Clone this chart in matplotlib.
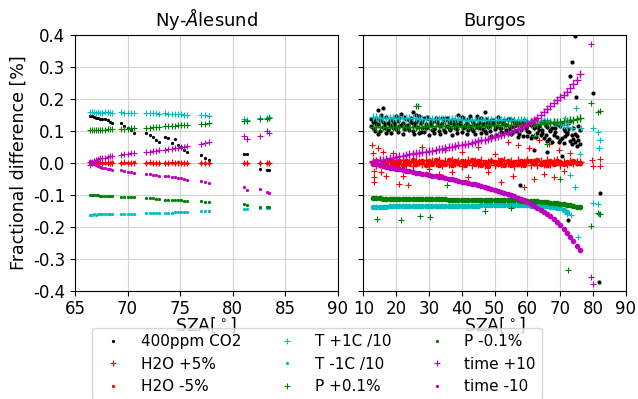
import numpy as np
import matplotlib
matplotlib.use('Agg')
import matplotlib.pyplot as plt

plt.rcParams['axes.unicode_minus'] = False
nan = np.nan

labels = ['400ppm CO2', 'H2O +5%', 'H2O -5%', 'T +1C /10', 'T -1C /10',
          'P +0.1%', 'P -0.1%', 'time +10', 'time -10']
styles = ['k.', 'r+', 'r.', 'c+', 'c.', 'g+', 'g.', 'm+', 'm.']

# ---- Ny-Alesund ----
sza_ny = [66.4, 66.6, 66.8, 67.0, 67.2, 67.4, 67.6,
          67.9, 68.1, 68.3, 68.5,
          69.4, 69.7, 70.0, 70.3, 70.6,
          71.8, 72.1, 72.4, 72.7, 73.0,
          73.6, 73.9, 74.2, 74.5, 74.8, 75.1, 75.4, 75.7,
          77.0, 77.4, 77.8,
          81.1, 81.4,
          82.6, 83.3, 83.5]
co2_ny = [0.146, 0.145, 0.143, 0.141, 0.139, 0.138, 0.137,
          0.136, 0.132, 0.127, 0.123,
          0.123, 0.116, 0.109, 0.101, 0.094,
          0.092, 0.086, 0.079, 0.072, 0.066,
          0.081, 0.078, 0.062, 0.074, 0.055, 0.048, 0.041, 0.034,
          0.024, 0.016, 0.009,
          0.027, 0.027,
          -0.021, -0.022, -0.022]
h2o_p_ny = [0.002, -0.002, 0.001, 0.0, -0.001, 0.002, 0.0,
            0.001, 0.0, -0.001, 0.0,
            0.0, 0.001, 0.0, -0.001, 0.0,
            0.0, 0.001, 0.0, 0.0, -0.001,
            0.0, 0.0, 0.001, 0.0, 0.0, -0.001, 0.0, 0.0,
            0.0, 0.0, 0.0,
            0.0, 0.0,
            0.0, 0.0, 0.0]
h2o_m_ny = [-0.001, 0.001, 0.0, -0.002, 0.001, 0.0, -0.001,
            0.0, -0.001, 0.0, 0.001,
            -0.001, 0.0, 0.0, 0.0, 0.001,
            0.0, 0.0, -0.001, 0.0, 0.0,
            0.0, -0.001, 0.0, 0.0, 0.001, 0.0, 0.0, 0.0,
            0.0, 0.0, 0.0,
            0.0, 0.0,
            0.0, 0.0, 0.0]
t_p_ny = [0.158, 0.157, 0.157, 0.156, 0.157, 0.156, 0.156,
          0.157, 0.157, 0.156, 0.156,
          0.157, 0.156, 0.156, 0.155, 0.155,
          0.155, 0.155, 0.154, 0.154, 0.153,
          0.154, 0.153, 0.153, 0.152, 0.152, 0.151, 0.150, 0.150,
          0.149, 0.148, 0.147,
          0.137, 0.133,
          0.140, 0.141, 0.142]
t_m_ny = [-0.162, -0.162, -0.161, -0.162, -0.161, -0.161, -0.161,
          -0.161, -0.160, -0.161, -0.160,
          -0.160, -0.160, -0.159, -0.159, -0.159,
          -0.158, -0.158, -0.157, -0.157, -0.156,
          -0.157, -0.156, -0.156, -0.155, -0.155, -0.154, -0.153, -0.153,
          -0.152, -0.151, -0.150,
          -0.145, -0.145,
          -0.141, -0.142, -0.143]
p_p_ny = [0.101, 0.101, 0.102, 0.102, 0.102, 0.103, 0.103,
          0.103, 0.104, 0.104, 0.104,
          0.105, 0.106, 0.106, 0.107, 0.108,
          0.110, 0.110, 0.111, 0.112, 0.112,
          0.114, 0.114, 0.115, 0.116, 0.117, 0.118, 0.118, 0.119,
          0.121, 0.122, 0.123,
          0.130, 0.131,
          0.137, 0.138, 0.139]
p_m_ny = [-0.101, -0.101, -0.102, -0.102, -0.102, -0.103, -0.103,
          -0.104, -0.104, -0.104, -0.105,
          -0.106, -0.106, -0.107, -0.108, -0.108,
          -0.110, -0.111, -0.111, -0.112, -0.112,
          -0.115, -0.115, -0.116, -0.117, -0.118, -0.118, -0.119, -0.120,
          -0.121, -0.122, -0.123,
          -0.130, -0.132,
          -0.137, -0.138, -0.139]
time_p_ny = [-0.006, 0.002, 0.006, 0.009, 0.012, 0.014, 0.016,
             0.016, 0.018, 0.020, 0.022,
             0.025, 0.027, 0.028, 0.030, 0.031,
             0.034, 0.035, 0.037, 0.038, 0.040,
             0.041, 0.042, 0.044, 0.045, 0.046, 0.048, 0.050, 0.051,
             0.058, 0.062, 0.066,
             0.083, 0.074,
             0.083, 0.100, 0.094]
time_m_ny = [0.006, -0.002, -0.005, -0.008, -0.011, -0.013, -0.015,
             -0.017, -0.019, -0.021, -0.023,
             -0.024, -0.026, -0.028, -0.030, -0.031,
             -0.035, -0.036, -0.037, -0.038, -0.040,
             -0.041, -0.043, -0.044, -0.046, -0.047, -0.049, -0.051, -0.053,
             -0.058, -0.061, -0.064,
             -0.075, -0.085,
             -0.083, -0.090, -0.094]

# ---- Burgos ----
sza_bu = [13, 14, 15, 16, 17, 18, 19, 20, 21, 22,
          23, 24, 25, 26, 27, 28, 29, 30, 31, 32,
          33, 34, 35, 36, 37, 38, 39, 40, 41, 42,
          43, 44, 45, 46, 47, 48, 49, 50, 51, 52,
          53, 54, 55, 56, 57, 58, 59, 60, 61, 62,
          63, 64, 65, 66, 67, 68, 69, 70, 71, 72,
          73, 74, 75, 76]
sza_bu2 = [12.5, 13.5, 14.5, 15.5, 16.5, 17.5, 18.5, 19.5, 20.5, 21.5,
           22.5, 23.5, 24.5, 25.5, 26.5, 27.5, 28.5, 29.5, 30.5, 31.5,
           32.5, 33.5, 34.5, 35.5, 36.5, 37.5, 38.5, 39.5, 40.5, 41.5,
           42.5, 43.5, 44.5, 45.5, 46.5, 47.5, 48.5, 49.5, 50.5, 51.5,
           52.5, 53.5, 54.5, 55.5, 56.5, 57.5, 58.5, 59.5, 60.5, 61.5,
           62.5, 63.5, 64.5, 65.5, 66.5, 67.5, 68.5, 69.5, 70.5, 71.5,
           72.5, 73.5, 74.5, 75.5]
co2_bu_a = [0.128, 0.121, 0.135, 0.112, 0.142, 0.118, 0.131, 0.105, 0.139, 0.124,
            0.116, 0.133, 0.098, 0.127, 0.145, 0.110, 0.122, 0.136, 0.103, 0.129,
            0.117, 0.140, 0.095, 0.126, 0.132, 0.108, 0.121, 0.144, 0.113, 0.101,
            0.130, 0.119, 0.137, 0.092, 0.124, 0.111, 0.134, 0.106, 0.128, 0.097,
            0.120, 0.138, 0.089, 0.115, 0.131, 0.102, 0.125, 0.083, 0.118, 0.109,
            0.094, 0.127, 0.078, 0.112, 0.099, 0.086, 0.121, 0.072, 0.105, 0.091,
            0.068, 0.110, 0.083, 0.058]
co2_bu_b = [0.109, 0.139, 0.100, 0.126, 0.094, 0.133, 0.108, 0.147, 0.115, 0.091,
            0.137, 0.102, 0.125, 0.150, 0.093, 0.131, 0.107, 0.088, 0.128, 0.141,
            0.099, 0.123, 0.134, 0.110, 0.087, 0.129, 0.148, 0.096, 0.117, 0.136,
            0.104, 0.090, 0.122, 0.139, 0.100, 0.127, 0.085, 0.116, 0.143, 0.109,
            0.132, 0.094, 0.113, 0.126, 0.081, 0.107, 0.135, 0.098, 0.076, 0.122,
            0.113, 0.088, 0.130, 0.069, 0.102, 0.125, 0.081, 0.114, 0.062, 0.097,
            0.131, 0.075, 0.052, 0.101]
co2_bu_c = [0.136, 0.098, 0.120, 0.148, 0.107, 0.125, 0.093, 0.116, 0.129, 0.153,
            0.104, 0.119, 0.140, 0.091, 0.112, 0.124, 0.097, 0.143, 0.118, 0.106,
            0.127, 0.089, 0.138, 0.115, 0.102, 0.121, 0.092, 0.131, 0.109, 0.124,
            0.146, 0.099, 0.113, 0.128, 0.105, 0.094, 0.119, 0.133, 0.087, 0.110,
            0.125, 0.103, 0.137, 0.096, 0.117, 0.089, 0.128, 0.108, 0.121, 0.084,
            0.136, 0.101, 0.092, 0.118, 0.073, 0.110, 0.095, 0.064, 0.123, 0.082,
            0.104, 0.059, 0.089, 0.072]
co2_bu_d = [0.115, 0.131, 0.089, 0.142, 0.120, 0.101, 0.137, 0.125, 0.096, 0.118,
            0.144, 0.108, 0.127, 0.119, 0.134, 0.097, 0.139, 0.111, 0.126, 0.093,
            0.135, 0.114, 0.103, 0.141, 0.123, 0.132, 0.106, 0.118, 0.139, 0.091,
            0.114, 0.128, 0.145, 0.107, 0.121, 0.136, 0.098, 0.124, 0.112, 0.130,
            0.093, 0.119, 0.104, 0.133, 0.099, 0.122, 0.085, 0.112, 0.096, 0.129,
            0.079, 0.116, 0.103, 0.088, 0.127, 0.066, 0.108, 0.121, 0.077, 0.099,
            0.125, 0.086, 0.064, 0.115]
h2o_p_bu = [0.004, -0.006, 0.008, -0.003, 0.006, -0.008, 0.002, 0.007, -0.005, 0.009,
            -0.007, 0.003, -0.009, 0.006, 0.001, -0.004, 0.008, -0.006, 0.005, -0.002,
            0.009, -0.008, 0.004, -0.005, 0.007, -0.001, 0.006, -0.009, 0.003, 0.008,
            -0.006, 0.005, -0.003, 0.009, -0.007, 0.002, 0.006, -0.008, 0.004, -0.005,
            0.008, -0.002, 0.005, -0.009, 0.007, -0.004, 0.003, 0.009, -0.006, 0.001,
            -0.008, 0.006, -0.003, 0.007, -0.005, 0.004, 0.008, -0.007, 0.002, -0.004,
            0.006, -0.002, 0.003, 0.001]
h2o_m_bu = [-0.003, 0.005, -0.007, 0.002, -0.005, 0.007, -0.001, -0.006, 0.004, -0.008,
            0.006, -0.002, 0.008, -0.005, 0.003, 0.006, -0.007, 0.004, -0.003, 0.008,
            -0.006, 0.002, -0.004, 0.007, -0.008, 0.005, -0.002, 0.006, -0.007, 0.003,
            0.008, -0.005, 0.004, -0.006, 0.002, -0.009, 0.005, 0.003, -0.004, 0.007,
            -0.006, 0.004, -0.008, 0.002, -0.003, 0.006, -0.007, 0.004, 0.005, -0.002,
            0.007, -0.005, 0.003, -0.006, 0.004, -0.003, 0.005, 0.002, -0.004, 0.003,
            -0.002, 0.004, -0.001, -0.002]
t_p_bu = [0.142, 0.142, 0.141, 0.141, 0.141, 0.140, 0.140, 0.140, 0.140, 0.139,
          0.139, 0.139, 0.139, 0.139, 0.138, 0.138, 0.138, 0.138, 0.137, 0.137,
          0.137, 0.137, 0.137, 0.136, 0.136, 0.136, 0.136, 0.135, 0.135, 0.135,
          0.135, 0.135, 0.134, 0.134, 0.134, 0.134, 0.134, 0.133, 0.133, 0.133,
          0.133, 0.133, 0.133, 0.132, 0.132, 0.132, 0.132, 0.131, 0.131, 0.131,
          0.130, 0.130, 0.130, 0.129, 0.128, 0.127, 0.125, 0.122, 0.118, 0.112,
          nan, nan, nan, nan]
t_m_bu = [-0.137, -0.137, -0.137, -0.137, -0.137, -0.136, -0.136, -0.136, -0.136, -0.136,
          -0.136, -0.136, -0.136, -0.135, -0.135, -0.135, -0.135, -0.135, -0.135, -0.135,
          -0.135, -0.135, -0.134, -0.134, -0.134, -0.134, -0.134, -0.134, -0.134, -0.134,
          -0.134, -0.134, -0.134, -0.133, -0.133, -0.133, -0.133, -0.133, -0.133, -0.133,
          -0.133, -0.133, -0.133, -0.133, -0.133, -0.133, -0.133, -0.133, -0.134, -0.134,
          -0.134, -0.135, -0.135, -0.136, -0.137, -0.138, -0.140, -0.143, -0.148, -0.155,
          nan, nan, nan, nan]
p_p_bu = [0.111, 0.111, 0.111, 0.112, 0.112, 0.112, 0.112, 0.112, 0.112, 0.113,
          0.113, 0.113, 0.113, 0.113, 0.113, 0.113, 0.114, 0.114, 0.114, 0.114,
          0.114, 0.114, 0.114, 0.115, 0.115, 0.115, 0.115, 0.115, 0.115, 0.116,
          0.116, 0.116, 0.116, 0.116, 0.116, 0.117, 0.117, 0.117, 0.117, 0.117,
          0.117, 0.118, 0.118, 0.118, 0.118, 0.119, 0.119, 0.120, 0.120, 0.121,
          0.121, 0.122, 0.123, 0.124, 0.125, 0.126, 0.127, 0.128, 0.129, 0.131,
          0.133, 0.135, 0.137, 0.139]
p_m_bu = [-0.111, -0.111, -0.111, -0.112, -0.112, -0.112, -0.112, -0.112, -0.112, -0.113,
          -0.113, -0.113, -0.113, -0.113, -0.113, -0.113, -0.114, -0.114, -0.114, -0.114,
          -0.114, -0.114, -0.114, -0.115, -0.115, -0.115, -0.115, -0.115, -0.115, -0.116,
          -0.116, -0.116, -0.116, -0.116, -0.116, -0.117, -0.117, -0.117, -0.117, -0.117,
          -0.117, -0.118, -0.118, -0.118, -0.118, -0.119, -0.119, -0.120, -0.120, -0.121,
          -0.121, -0.122, -0.123, -0.124, -0.125, -0.126, -0.127, -0.128, -0.129, -0.131,
          -0.133, -0.135, -0.137, -0.138]
time_p_bu = [0.002, 0.005, 0.008, 0.010, 0.012, 0.014, 0.016, 0.018, 0.020, 0.022,
             0.024, 0.026, 0.028, 0.029, 0.031, 0.033, 0.035, 0.036, 0.038, 0.040,
             0.042, 0.044, 0.046, 0.048, 0.050, 0.052, 0.054, 0.056, 0.058, 0.060,
             0.062, 0.064, 0.067, 0.070, 0.072, 0.075, 0.078, 0.081, 0.084, 0.087,
             0.090, 0.093, 0.097, 0.101, 0.105, 0.110, 0.115, 0.120, 0.126, 0.134,
             0.141, 0.150, 0.158, 0.167, 0.176, 0.186, 0.195, 0.204, 0.213, 0.222,
             0.233, 0.246, 0.260, 0.277]
time_m_bu = [-0.002, -0.005, -0.008, -0.010, -0.013, -0.015, -0.017, -0.019, -0.021, -0.023,
             -0.025, -0.027, -0.029, -0.031, -0.032, -0.034, -0.036, -0.038, -0.040, -0.042,
             -0.044, -0.046, -0.048, -0.050, -0.052, -0.054, -0.057, -0.059, -0.061, -0.063,
             -0.066, -0.068, -0.070, -0.073, -0.076, -0.079, -0.082, -0.085, -0.088, -0.091,
             -0.094, -0.097, -0.101, -0.105, -0.109, -0.113, -0.118, -0.123, -0.128, -0.134,
             -0.141, -0.148, -0.154, -0.160, -0.167, -0.175, -0.184, -0.195, -0.207, -0.220,
             -0.233, -0.246, -0.259, -0.272]

# scattered points in Burgos
co2_out_sza = [72.9, 73.7, 74.4, 74.9, 80.0, 82.0, 72.4, 81.7, 57.6, 62.0, 66.0, 70.5, 14.5, 16.0, 25.0, 47.0]
co2_out_val = [0.271, 0.316, 0.397, 0.206, 0.219, -0.096, -0.179, -0.374, -0.070, 0.040, 0.035, 0.020,
               0.165, 0.170, 0.160, 0.158]
h2o_out_sza = [12.8, 13.0, 13.2, 13.3, 13.4, 14.5, 15.5, 16.0, 17.0, 19.0, 21.0, 22.0, 23.5, 25.0,
               28.0, 30.0, 33.0, 35.0, 37.0, 40.0, 42.0, 45.0, 48.0, 50.0, 52.0, 54.0, 55.5, 57.0,
               59.0, 60.5, 62.0, 63.5, 65.0, 66.5, 68.0, 69.5, 71.0, 73.0, 79.8, 80.0, 82.0, 82.2]
h2o_out_val = [0.055, 0.030, -0.025, -0.045, -0.060, 0.045, -0.028, 0.035, -0.040, 0.030, -0.065,
               -0.040, -0.070, 0.030, 0.048, -0.020, -0.035, 0.040, -0.028, 0.032, -0.045, 0.050,
               -0.030, 0.028, -0.060, 0.065, -0.040, 0.055, -0.075, 0.045, -0.050, 0.070, -0.035,
               0.060, -0.045, 0.040, -0.025, 0.030, 0.008, -0.010, 0.011, -0.010]
t_out_sza = [74.9, 76.4, 80.0, 81.5, 82.0, 81.9, 76.0, 72.9, 74.4, 80.0, 81.5, 73.4, 75.4, 72.1,
             81.7, 71.5, 72.5, 73.5]
t_out_val = [0.170, 0.107, 0.107, 0.097, 0.071, 0.045, 0.026, -0.038, -0.075, -0.127, -0.130,
             -0.163, -0.231, -0.160, -0.160, 0.140, 0.125, 0.110]
p_out_sza = [79.3, 81.5, 82.0, 79.3, 81.5, 82.0, 72.4, 14.2, 26.2, 26.8, 21.6, 27.4, 30.2, 35.5,
             47.0, 55.0, 62.0, 66.0, 70.0]
p_out_val = [0.1875, 0.160, 0.163, -0.197, -0.158, -0.160, -0.335, -0.177, 0.177, 0.177, -0.179,
             -0.165, -0.170, -0.070, -0.150, -0.140, 0.085, 0.060, -0.050]
time_out_sza = [79.5, 79.5, 80.0]
time_out_val = [0.370, -0.356, -0.379]

ny_series = [co2_ny, h2o_p_ny, h2o_m_ny, t_p_ny, t_m_ny, p_p_ny, p_m_ny, time_p_ny, time_m_ny]
bu_series = [h2o_p_bu, h2o_m_bu, t_p_bu, t_m_bu, p_p_bu, p_m_bu, time_p_bu, time_m_bu]


def msize(st, big=False):
    if st.endswith('+'):
        return 6 if big else 4
    return 6 if big else 3


fig = plt.figure(figsize=(6.38, 3.99), dpi=100)
ax1 = fig.add_axes([0.1176, 0.2714, 0.4114, 0.6416])
ax2 = fig.add_axes([0.5694, 0.2714, 0.4117, 0.6416], sharey=ax1)

handles = []
for vals, st, lab in zip(ny_series, styles, labels):
    h, = ax1.plot(sza_ny, vals, st, ms=msize(st), mew=0.8, label=lab)
    handles.append(h)

# Burgos: scattered black first, then the bands on top
ax2.plot(sza_bu, co2_bu_a, 'k.', ms=4)
ax2.plot(sza_bu, co2_bu_b, 'k.', ms=4)
ax2.plot(sza_bu2, co2_bu_c, 'k.', ms=4)
ax2.plot(sza_bu2, co2_bu_d, 'k.', ms=4)
ax2.plot(co2_out_sza, co2_out_val, 'k.', ms=4)
ax2.plot(h2o_out_sza, h2o_out_val, 'r+', ms=4, mew=0.8)
for vals, st in zip(bu_series, styles[1:]):
    ax2.plot(sza_bu, vals, st, ms=msize(st, True), mew=1.0)
ax2.plot(t_out_sza, t_out_val, 'c+', ms=4, mew=0.8)
ax2.plot(p_out_sza, p_out_val, 'g+', ms=4, mew=0.8)
ax2.plot(time_out_sza, time_out_val, 'm+', ms=4, mew=0.8)

ax1.set_xlim(65, 90)
ax1.set_xticks([65, 70, 75, 80, 85, 90])
ax2.set_xlim(10, 90)
ax2.set_xticks([10, 20, 30, 40, 50, 60, 70, 80, 90])
ax1.set_ylim(-0.4, 0.4)
ax1.set_yticks([-0.4, -0.3, -0.2, -0.1, 0.0, 0.1, 0.2, 0.3, 0.4])
plt.setp(ax2.get_yticklabels(), visible=False)

for ax in (ax1, ax2):
    ax.grid(True, color='#d3d3d3', lw=0.8)
    ax.set_axisbelow(True)
    ax.tick_params(labelsize=12)
    ax.set_xlabel(r'SZA[$^\circ$]', fontsize=12.5, labelpad=-2)

ax1.set_title(r'Ny-$\AA$lesund', fontsize=13)
ax2.set_title('Burgos', fontsize=13)
ax1.set_ylabel('Fractional difference [%]', fontsize=12.5)

fig.legend(handles, labels, ncol=3, fontsize=11, loc='upper left',
           bbox_to_anchor=(92 / 638, 1 - 328 / 399), borderaxespad=0)

fig.savefig('out.png', dpi=100)
